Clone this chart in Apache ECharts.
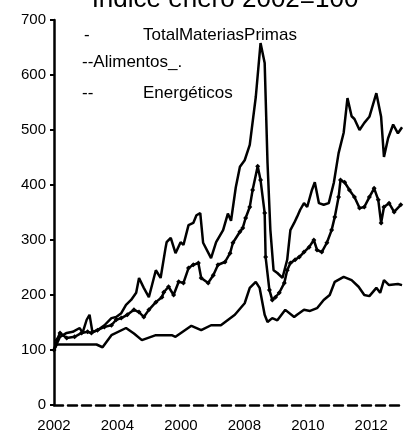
<!DOCTYPE html>
<html>
	<head>
		<meta charset="utf-8" />
		<title>Índice enero 2002=100</title>
		<script src="https://cdn.jsdelivr.net/npm/echarts@6/dist/echarts.min.js"></script>
		<style type="text/css">
			html,body{margin:0;padding:0;background:#fff;}
			#main{width:406px;height:436px;}
		</style>
	</head>
	<body>
		<div id="main"></div>
		<script type="text/javascript">
			// etiquetas del eje x (tal como aparecen en el original)
			var xTicks = [2002, 2004, 2006, 2008, 2010, 2012];
			var xLabels = ['2002', '2004', '2000', '2008', '2010', '2012'];

			// serie superior
			var energFechas = [2002.00, 2002.19, 2002.40, 2002.59, 2002.81, 2002.90, 2003.03, 2003.12, 2003.21, 2003.37,
				2003.59, 2003.81, 2003.96, 2004.12, 2004.27, 2004.43, 2004.59, 2004.68, 2004.83, 2004.99,
				2005.21, 2005.36, 2005.52, 2005.55, 2005.68, 2005.83, 2005.99, 2006.08, 2006.24, 2006.39,
				2006.49, 2006.61, 2006.70, 2006.95, 2007.11, 2007.33, 2007.48, 2007.58, 2007.73, 2007.86,
				2008.01, 2008.17, 2008.36, 2008.51, 2008.64, 2008.73, 2008.82, 2008.92, 2009.04, 2009.20,
				2009.35, 2009.45, 2009.57, 2009.66, 2009.76, 2009.88, 2009.98, 2010.13, 2010.22, 2010.35,
				2010.50, 2010.66, 2010.82, 2010.97, 2011.13, 2011.25, 2011.38, 2011.47, 2011.63, 2011.78,
				2011.94, 2012.16, 2012.31, 2012.40, 2012.53, 2012.69, 2012.84, 2012.97];
			var energValores = [100, 124, 131, 133, 140, 131, 155, 164, 133, 136,
				145, 158, 160, 167, 182, 191, 204, 231, 213, 196,
				245, 231, 287, 296, 304, 276, 296, 291, 327, 331,
				345, 349, 295, 267, 296, 318, 348, 335, 396, 433,
				445, 473, 560, 658, 622, 440, 318, 245, 240, 231,
				264, 318, 331, 342, 355, 367, 360, 391, 405, 367,
				364, 367, 404, 458, 495, 558, 525, 520, 500, 513,
				524, 567, 524, 451, 485, 510, 494, 505];

			// serie intermedia (con marcas)
			var totalFechas = [2002.00, 2002.09, 2002.19, 2002.40, 2002.65, 2002.87, 2003.06, 2003.18, 2003.37, 2003.59,
				2003.81, 2003.96, 2004.12, 2004.31, 2004.52, 2004.68, 2004.83, 2004.99, 2005.21, 2005.40,
				2005.46, 2005.61, 2005.77, 2005.93, 2006.08, 2006.24, 2006.39, 2006.55, 2006.64, 2006.86,
				2007.02, 2007.17, 2007.39, 2007.55, 2007.64, 2007.86, 2007.95, 2008.04, 2008.17, 2008.26,
				2008.42, 2008.51, 2008.64, 2008.67, 2008.79, 2008.88, 2008.98, 2009.10, 2009.26, 2009.35,
				2009.45, 2009.60, 2009.73, 2009.88, 2010.04, 2010.19, 2010.29, 2010.44, 2010.60, 2010.75,
				2010.85, 2010.97, 2011.03, 2011.16, 2011.31, 2011.47, 2011.63, 2011.78, 2011.94, 2012.09,
				2012.22, 2012.31, 2012.40, 2012.56, 2012.72, 2012.93];
			var totalValores = [100, 118, 131, 122, 124, 131, 133, 131, 136, 142,
				145, 155, 158, 164, 173, 169, 160, 173, 187, 196,
				205, 215, 200, 224, 222, 249, 255, 258, 231, 222,
				236, 255, 260, 276, 295, 315, 322, 340, 360, 391,
				434, 409, 349, 269, 209, 191, 196, 204, 222, 245,
				258, 264, 269, 278, 287, 300, 282, 278, 295, 318,
				342, 378, 409, 405, 391, 378, 358, 360, 378, 394,
				373, 331, 360, 367, 351, 364];

			// serie inferior
			var alimFechas = [2002.00, 2002.09, 2002.19, 2003.34, 2003.53, 2003.81, 2004.27, 2004.52, 2004.77, 2005.21,
				2005.71, 2005.83, 2006.33, 2006.64, 2006.95, 2007.26, 2007.70, 2008.01, 2008.17, 2008.36,
				2008.48, 2008.64, 2008.73, 2008.88, 2009.04, 2009.29, 2009.57, 2009.66, 2009.88, 2010.07,
				2010.29, 2010.50, 2010.69, 2010.85, 2011.13, 2011.38, 2011.60, 2011.78, 2011.94, 2012.16,
				2012.28, 2012.40, 2012.56, 2012.84, 2012.97];
			var alimValores = [100, 110, 110, 110, 105, 127, 140, 130, 118, 127,
				127, 124, 144, 136, 145, 145, 164, 185, 213, 224,
				213, 164, 151, 158, 154, 173, 160, 164, 173, 171,
				176, 191, 200, 224, 233, 227, 215, 200, 198, 213,
				204, 227, 218, 220, 218];

			function pares(f, v){
				var d = [];
				for (var i = 0; i < f.length; i++) {
					d.push([f[i], v[i]]);
				}
				return d;
			}

			var fuente = '"Liberation Sans", Arial, sans-serif';
			var myChart = echarts.init(document.getElementById('main'));
			var option = {
				animation: false,
				backgroundColor: '#fff',
				grid: {left: 54, top: 20, width: 353, height: 385},
				xAxis: {
					type: 'value',
					min: 2002,
					max: 2013,
					interval: 2,
					axisLine: {lineStyle: {color: '#000', width: 2.5, type: [9, 5]}},
					axisTick: {show: false},
					splitLine: {show: false},
					axisLabel: {
						color: '#000', fontSize: 15, fontFamily: fuente, margin: 13,
						formatter: function (v) {
							var i = xTicks.indexOf(v);
							return i >= 0 ? xLabels[i] : '';
						}
					}
				},
				yAxis: {
					type: 'value',
					min: 0,
					max: 700,
					interval: 100,
					axisLine: {show: true, lineStyle: {color: '#000', width: 2.5}},
					axisTick: {show: true, length: 4, lineStyle: {color: '#000', width: 2}},
					splitLine: {show: false},
					axisLabel: {color: '#000', fontSize: 15, fontFamily: fuente, margin: 8}
				},
				graphic: [
					{type: 'text', style: {text: 'Índice enero 2002=100', x: 225, y: 13, textAlign: 'center', textVerticalAlign: 'bottom', font: '26px ' + fuente, fill: '#000'}},
					{type: 'text', style: {text: '-', x: 84, y: 35, textVerticalAlign: 'middle', font: '17px ' + fuente, fill: '#000'}},
					{type: 'text', style: {text: 'TotalMateriasPrimas', x: 143, y: 35, textVerticalAlign: 'middle', font: '17px ' + fuente, fill: '#000'}},
					{type: 'text', style: {text: '--Alimentos_.', x: 82, y: 62, textVerticalAlign: 'middle', font: '17px ' + fuente, fill: '#000'}},
					{type: 'text', style: {text: '--', x: 82, y: 93, textVerticalAlign: 'middle', font: '17px ' + fuente, fill: '#000'}},
					{type: 'text', style: {text: 'Energéticos', x: 143, y: 93, textVerticalAlign: 'middle', font: '17px ' + fuente, fill: '#000'}}
				],
				series: [{
					name: 'Energéticos',
					type: 'line',
					data: pares(energFechas, energValores),
					showSymbol: false,
					lineStyle: {color: '#000', width: 2.5},
					z: 3
				}, {
					name: 'TotalMateriasPrimas',
					type: 'line',
					data: pares(totalFechas, totalValores),
					symbol: 'diamond',
					symbolSize: 5,
					itemStyle: {color: '#000'},
					lineStyle: {color: '#000', width: 2.5},
					z: 2
				}, {
					name: 'Alimentos',
					type: 'line',
					data: pares(alimFechas, alimValores),
					showSymbol: false,
					lineStyle: {color: '#000', width: 2.5},
					z: 1
				}]
			};
			myChart.setOption(option);
		</script>
	</body>
</html>
